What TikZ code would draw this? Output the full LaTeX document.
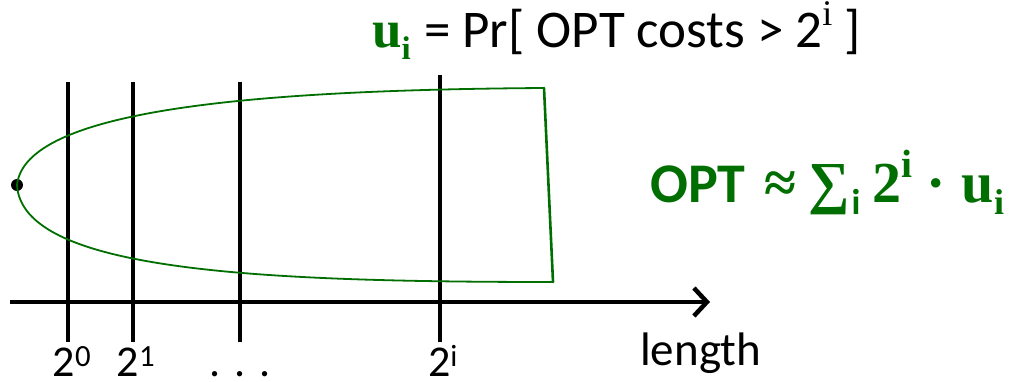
\documentclass[tikz,border=0pt]{standalone}
\usepackage{fontspec}
\setmainfont{Carlito}
\newfontfamily\serf{Liberation Serif}
\usetikzlibrary{arrows.meta}
\definecolor{dg}{RGB}{0,110,0}
\newcommand{\lowr}[1]{\raisebox{-0.22em}{\scalebox{0.62}{#1}}}
\newcommand{\upr}[1]{\raisebox{0.42em}{\scalebox{0.68}{#1}}}
\begin{document}
\begin{tikzpicture}[x=1pt,y=-1pt,
  tick/.style={line width=3.5pt},
  lbl/.style={font=\fontsize{44}{50}\selectfont, anchor=base, inner sep=0pt},
  txt/.style={font=\fontsize{53}{60}\selectfont, anchor=base west, inner sep=0pt},
  curve/.style={draw=dg, line width=1.8pt, line join=round}]
\useasboundingbox (0,0) rectangle (1024,382);
% vertical lines
\coordinate (t0) at (68,82);  \coordinate (b0) at (68,342);
\coordinate (t1) at (133,82); \coordinate (b1) at (133,342);
\coordinate (t2) at (240,82); \coordinate (b2) at (240,342);
\coordinate (t3) at (440,75); \coordinate (b3) at (440,342);
\foreach \i in {0,1,2,3} \draw[tick] (t\i) -- (b\i);
% green shape
\node[circle, fill=black, inner sep=0pt, minimum size=12pt] (dot) at (17,185) {};
\coordinate (tr) at (544,88);
\coordinate (br) at (553,282);
\draw[curve] (dot.center) .. controls (25,110) and (250,90) .. (tr);
\draw[curve] (dot.center) .. controls (22,270) and (250,282) .. (br);
\draw[draw=dg, line width=2.6pt, line cap=round] (tr) -- (br);
% axis
\coordinate (a0) at (10,302);
\coordinate (a1) at (710,302);
\draw[line width=4.5pt, -{Straight Barb[length=13pt,width=28pt,line width=4.5pt]}] (a0) -- (a1);
% labels
\node[lbl] (l0) at (72,376) {2\textsuperscript{0}};
\node[lbl] (l1) at (136,376) {2\textsuperscript{1}};
\node[lbl] (l2) at (240,376) {.\hspace{14pt}.\hspace{14pt}.};
\node[lbl] (l3) at (443,376) {2\textsuperscript{i}};
\node[txt, font=\fontsize{47}{53}\selectfont] (len) at (640,365) {length};
% top text
\node[txt, font=\fontsize{53}{60}\selectfont\serf\bfseries, text=dg] (ui) at (372,48) {u\lowr{i}};
\node[txt] (top) at (424,48) {= Pr[ OPT costs > 2{\serf\upr{i}} ]};
% formula
\node[txt, font=\fontsize{56}{62}\selectfont\bfseries, text=dg] (opt) at (650,202) {OPT};
\node[txt, font=\fontsize{58}{64}\selectfont\serf\bfseries, text=dg] (sum) at (764,202)
  {≈\hspace{12pt}∑\kern0.04em\lowr{\normalfont\bfseries i}\hspace{12pt}2\upr{i}\hspace{14pt}·\hspace{16pt}u\lowr{i}};
\end{tikzpicture}
\end{document}
